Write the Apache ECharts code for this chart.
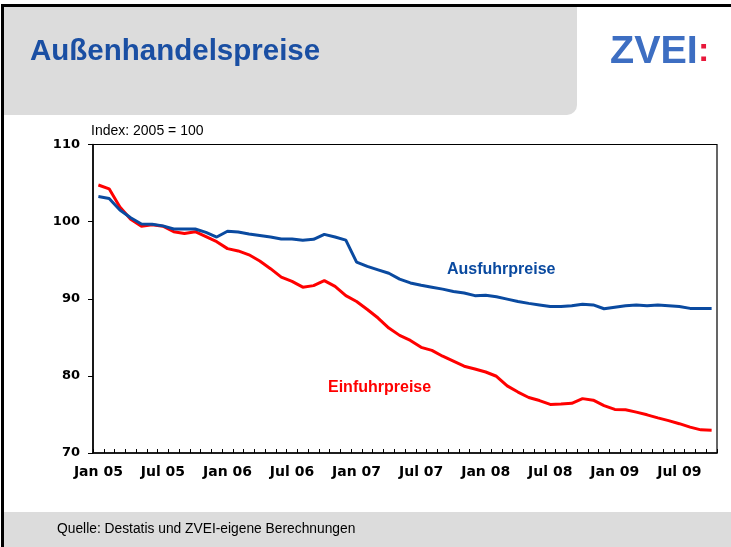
<!DOCTYPE html>
<html>
<head>
<meta charset="utf-8">
<script src="https://cdn.jsdelivr.net/npm/echarts@6/dist/echarts.min.js"></script>
<style>
html,body{margin:0;padding:0;background:#fff;}
#c{width:731px;height:547px;}
</style>
</head>
<body>
<div id="c"></div>
<script>
// ---- data ----
const monthNames = ['Jan','Feb','Mrz','Apr','Mai','Jun','Jul','Aug','Sep','Okt','Nov','Dez'];
const years = ['05','06','07','08','09'];
const categories = [];
for (const y of years) for (const m of monthNames) categories.push(m + ' ' + y);
categories.length = 58; // Jan 05 .. Okt 09

const ausfuhrpreise = [
  103.25,103.0,101.5,100.5,99.7,99.65,99.45,99.05,99.05,99.05,98.6,98.0,
  98.75,98.65,98.4,98.2,98.0,97.75,97.75,97.6,97.7,98.35,98.0,97.6,
  94.75,94.2,93.75,93.3,92.55,92.05,91.75,91.5,91.25,90.95,90.75,90.4,
  90.45,90.25,89.95,89.65,89.4,89.2,89.0,89.0,89.1,89.3,89.2,88.7,
  88.9,89.1,89.2,89.1,89.2,89.1,89.0,88.75,88.75,88.75
];
const einfuhrpreise = [
  104.75,104.25,101.9,100.3,99.4,99.6,99.4,98.7,98.45,98.7,98.05,97.4,
  96.5,96.2,95.7,94.9,93.9,92.8,92.25,91.5,91.7,92.35,91.6,90.4,
  89.65,88.6,87.5,86.2,85.25,84.6,83.7,83.3,82.55,81.9,81.25,80.9,
  80.5,79.95,78.7,77.9,77.2,76.8,76.3,76.35,76.45,77.05,76.85,76.15,
  75.65,75.6,75.3,74.95,74.55,74.2,73.8,73.35,73.0,72.95
];
const yTicks = [70, 80, 90, 100, 110];

const title = 'Außenhandelspreise';
const indexNote = 'Index: 2005 = 100';
const source = 'Quelle: Destatis und ZVEI-eigene Berechnungen';

const chart = echarts.init(document.getElementById('c'), null, {renderer:'canvas'});
const axisFont = '"DejaVu Sans", sans-serif';
const textFont = '"Liberation Sans", Arial, sans-serif';

chart.setOption({
  animation: false,
  backgroundColor: '#ffffff',
  grid: {left: 93, top: 144.5, right: 14, bottom: 94, show: true, borderColor: '#000', borderWidth: 1.2, backgroundColor: 'transparent'},
  xAxis: {
    type: 'category',
    data: categories,
    boundaryGap: true,
    axisLine: {lineStyle: {color: '#000', width: 1.5}},
    axisTick: {show: true, inside: true, length: 4, interval: 0, lineStyle: {color: '#000', width: 1}},
    axisLabel: {interval: 5, margin: 12, color: '#000', fontFamily: axisFont, fontWeight: 'bold', fontSize: 14},
    splitLine: {show: false}
  },
  yAxis: {
    type: 'value',
    min: yTicks[0], max: yTicks[yTicks.length-1], interval: 10,
    axisLine: {show: true, lineStyle: {color: '#000', width: 1.5}},
    axisTick: {show: true, length: 5, lineStyle: {color: '#000', width: 1}},
    axisLabel: {margin: 13, color: '#000', fontFamily: axisFont, fontWeight: 'bold', fontSize: 13},
    splitLine: {show: false}
  },
  series: [
    {name: 'Ausfuhrpreise', type: 'line', data: ausfuhrpreise, symbol: 'none', lineStyle: {color: '#0a4aa0', width: 3}, z: 3},
    {name: 'Einfuhrpreise', type: 'line', data: einfuhrpreise, symbol: 'none', lineStyle: {color: '#ff0000', width: 3}, z: 2}
  ],
  graphic: [
    // frame
    {type: 'rect', shape: {x: 1, y: 4, width: 730, height: 3}, style: {fill: '#000'}, z: 10},
    {type: 'rect', shape: {x: 1, y: 4, width: 3, height: 543}, style: {fill: '#000'}, z: 10},
    // header
    {type: 'rect', shape: {x: 4, y: 7, width: 573, height: 108, r: [0, 0, 10, 0]}, style: {fill: '#dcdcdc'}, z: 1},
    {type: 'text', x: 30, y: 52, style: {text: title, fill: '#1a4fa3', font: 'bold 29.5px ' + textFont, textVerticalAlign: 'middle'}, z: 5},
    // logo
    {type: 'text', x: 610, y: 52, style: {text: 'ZVEI', fill: '#3d6ec2', font: 'bold 39.5px ' + textFont, textVerticalAlign: 'middle'}, z: 5},
    {type: 'text', x: 698, y: 52, style: {text: ':', fill: '#e8173a', font: 'bold 34px ' + textFont, textVerticalAlign: 'middle'}, z: 5},
    // index note
    {type: 'text', x: 91, y: 131, style: {text: indexNote, fill: '#000', font: '14px ' + textFont, textVerticalAlign: 'middle'}, z: 5},
    // series annotations
    {type: 'text', x: 447, y: 270, style: {text: 'Ausfuhrpreise', fill: '#0a4aa0', font: 'bold 16px ' + textFont, textVerticalAlign: 'middle'}, z: 5},
    {type: 'text', x: 328, y: 388, style: {text: 'Einfuhrpreise', fill: '#ff0000', font: 'bold 16px ' + textFont, textVerticalAlign: 'middle'}, z: 5},
    // footer
    {type: 'rect', shape: {x: 4, y: 512, width: 727, height: 35}, style: {fill: '#dcdcdc'}, z: 1},
    {type: 'text', x: 57, y: 529, style: {text: source, fill: '#000', font: '13.8px ' + textFont, textVerticalAlign: 'middle'}, z: 5}
  ]
});
</script>
</body>
</html>
